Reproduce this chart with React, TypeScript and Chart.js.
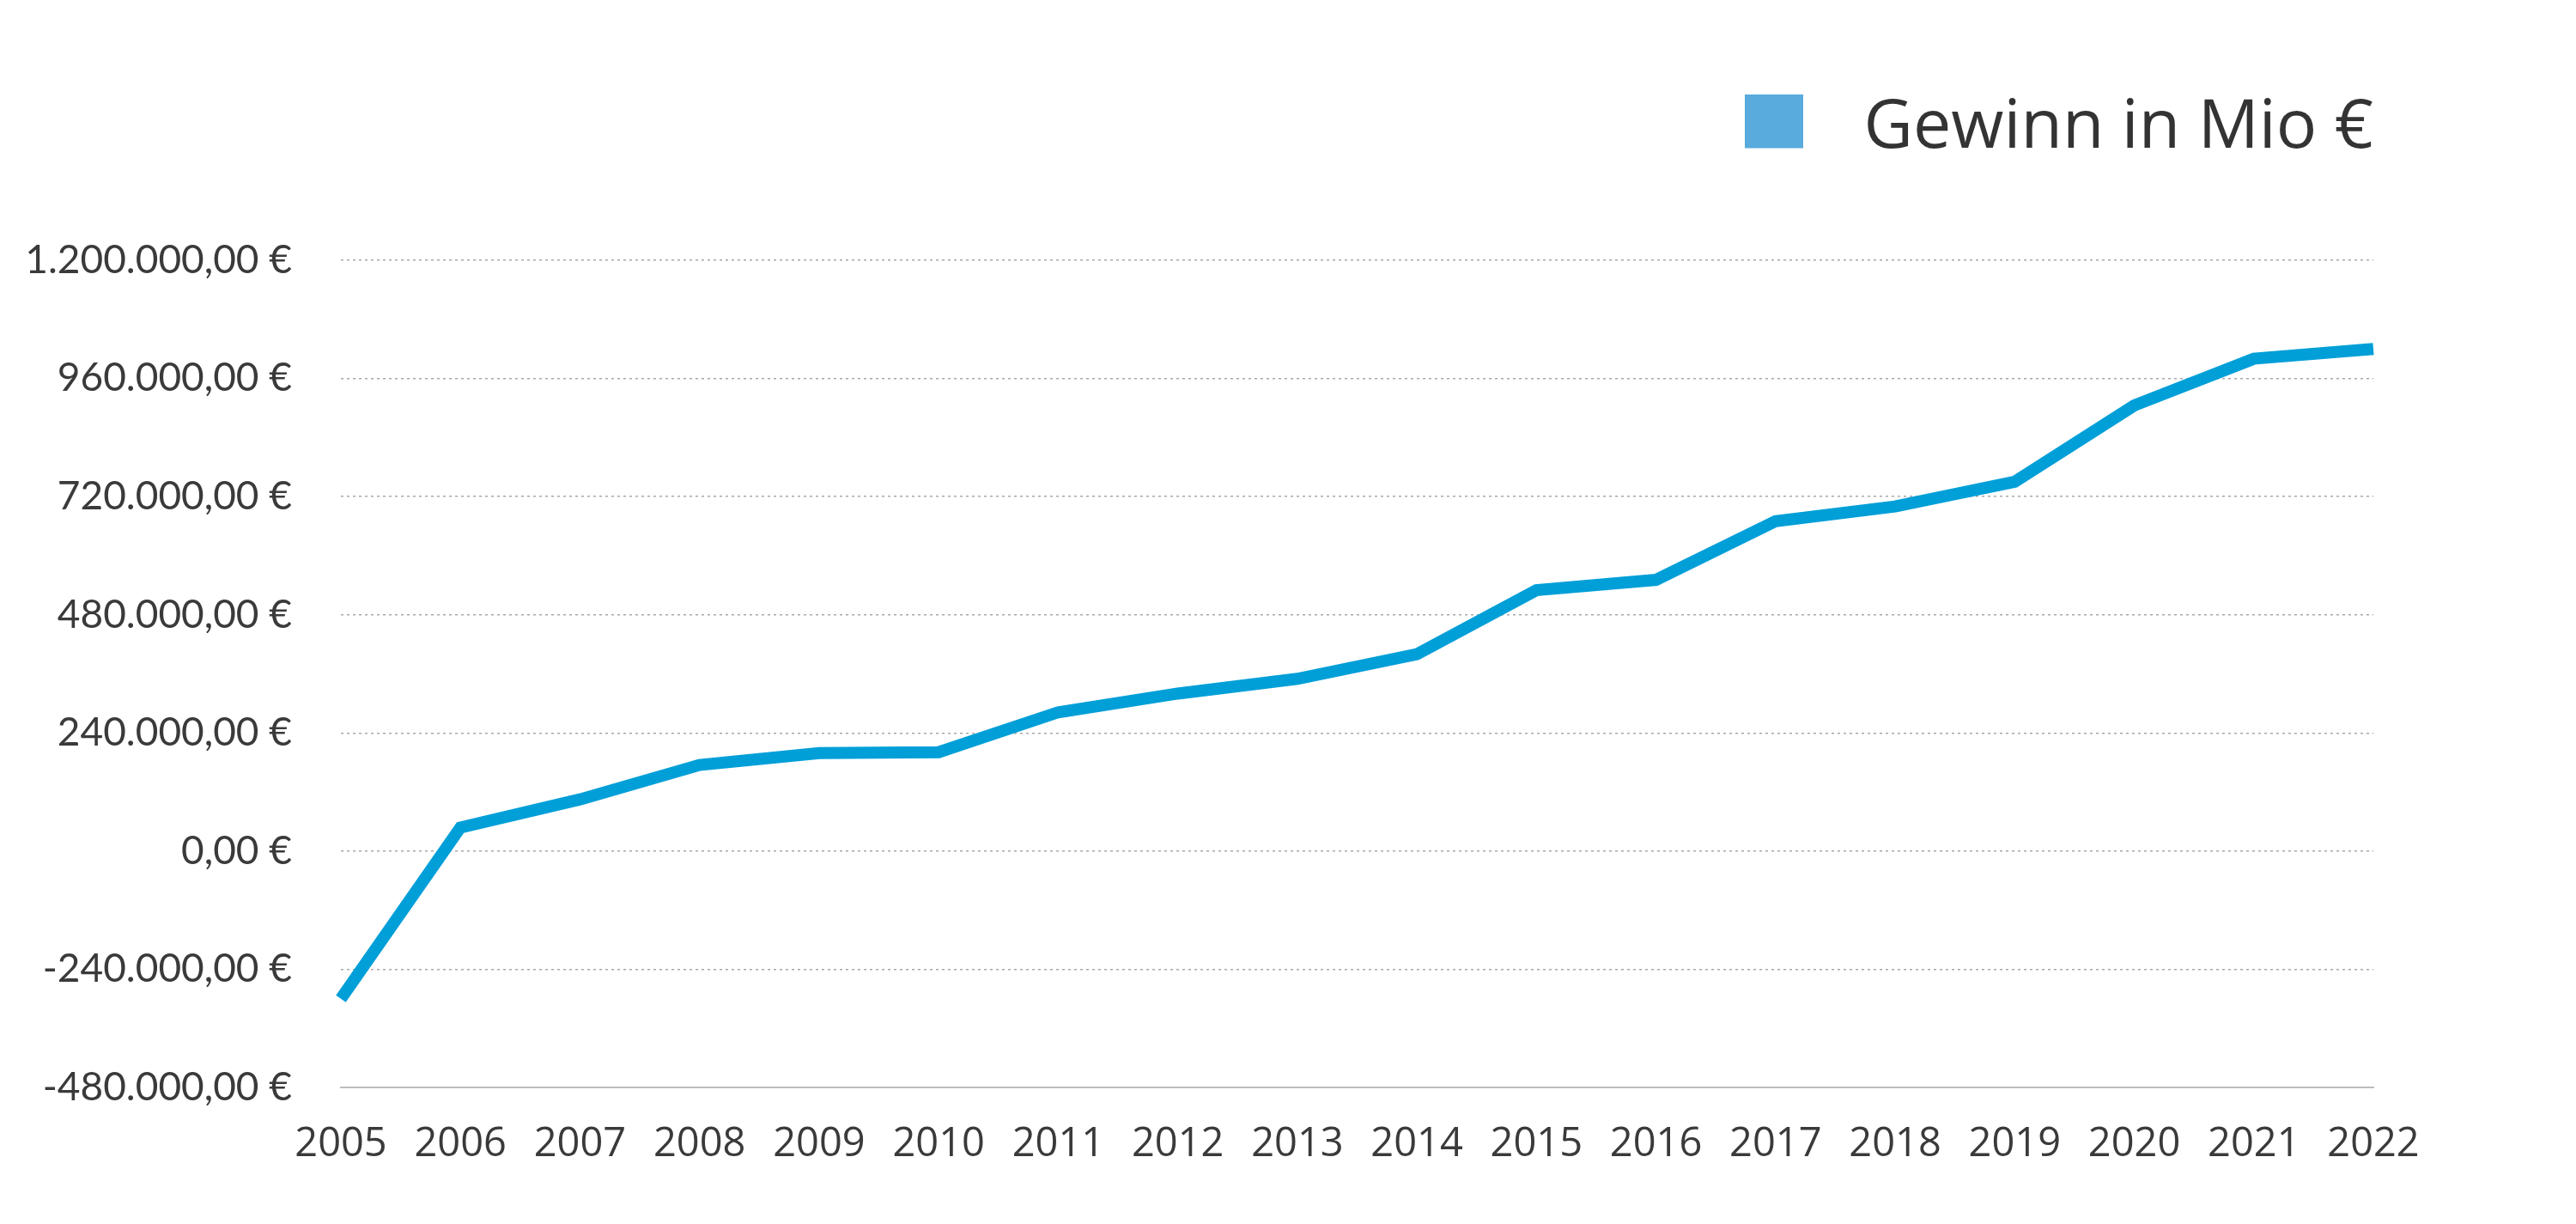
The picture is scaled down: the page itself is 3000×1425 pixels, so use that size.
import React, { useEffect, useRef } from 'react';
import { Chart, registerables } from 'chart.js';

Chart.register(...registerables);

const years = ['2005', '2006', '2007', '2008', '2009', '2010', '2011', '2012', '2013', '2014', '2015', '2016', '2017', '2018', '2019', '2020', '2021', '2022'];
const gewinn = [-300000, 48000, 105000, 175000, 199000, 201000, 282000, 320000, 350000, 400000, 530000, 551000, 670000, 700000, 750000, 905000, 1000000, 1020000];
const seriesLabel = 'Gewinn in Mio €';
const yMin = -480000;
const yMax = 1200000;
const yStep = 240000;

function formatEuro(v: number): string {
  const neg = v < 0;
  const abs = Math.round(Math.abs(v));
  const s = String(abs).replace(/\B(?=(\d{3})+(?!\d))/g, '.');
  return (neg ? '-' : '') + s + ',00 €';
}

const TEXT_SHIFT = 11;
const LEGEND_GAP = 115 - TEXT_SHIFT;

const legendSpacer = {
  id: 'legendSpacer',
  beforeInit(chart: any) {
    const legend = chart.legend;
    if (!legend) return;
    const orig = legend.fit;
    legend.fit = function () {
      orig.call(this);
      this.height += LEGEND_GAP;
    };
  },
};

export default function App() {
  const ref = useRef<HTMLCanvasElement | null>(null);

  useEffect(() => {
    document.body.style.margin = '0';
    const canvas = ref.current;
    if (!canvas) return;

    const icon = document.createElement('canvas');
    icon.width = 99;
    icon.height = 68 + 2 * TEXT_SHIFT;
    const ictx = icon.getContext('2d');
    if (ictx) {
      ictx.fillStyle = '#58abdc';
      ictx.fillRect(0, 0, 68, 68);
    }

    const chart = new Chart(canvas, {
      type: 'line',
      data: {
        labels: years,
        datasets: [
          {
            label: seriesLabel,
            data: gewinn,
            borderColor: '#009fd8',
            backgroundColor: '#58abdc',
            borderWidth: 14,
            pointRadius: 0,
            pointHoverRadius: 0,
            tension: 0,
            fill: false,
          },
        ],
      },
      options: {
        responsive: false,
        animation: false,
        events: [],
        layout: {
          padding: { top: 99 + TEXT_SHIFT, right: 236, bottom: 59, left: 0 },
        },
        plugins: {
          tooltip: { enabled: false },
          title: { display: false },
          legend: {
            display: true,
            position: 'top',
            align: 'end',
            labels: {
              usePointStyle: true,
              pointStyle: icon as any,
              pointStyleWidth: 99,
              boxHeight: 68,
              padding: 0,
              color: '#333333',
              font: { family: "'Open Sans', sans-serif", size: 79 },
            },
          },
        },
        scales: {
          x: {
            type: 'category',
            offset: false,
            grid: { display: false },
            border: { display: true, color: '#bdbdbd', width: 2 },
            ticks: {
              padding: 30,
              maxRotation: 0,
              autoSkip: false,
              color: '#3a3a3a',
              font: { family: "'Open Sans', sans-serif", size: 47 },
            },
            afterFit: (scale: any) => {
              scale.height = 100;
            },
          },
          y: {
            min: yMin,
            max: yMax,
            grid: {
              display: true,
              drawTicks: false,
              color: '#a8a8a8',
              lineWidth: 1.5,
            },
            border: { display: false, dash: [3, 4] },
            ticks: {
              stepSize: yStep,
              padding: 57,
              color: '#3a3a3a',
              font: { family: "Lato, sans-serif", size: 46 },
              callback: (value: any) => formatEuro(Number(value)),
            },
            afterFit: (scale: any) => {
              scale.width = 397;
            },
          },
        },
      },
      plugins: [legendSpacer],
    });

    return () => {
      chart.destroy();
    };
  }, []);

  return (
    <div style={{ width: 3000, height: 1425, background: '#ffffff' }}>
      <canvas ref={ref} width={3000} height={1425} style={{ display: 'block' }} />
    </div>
  );
}
